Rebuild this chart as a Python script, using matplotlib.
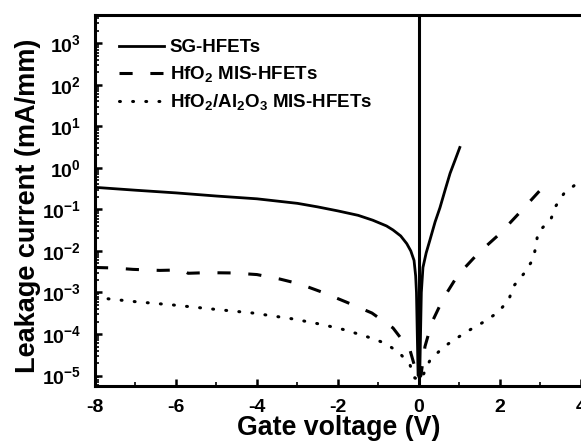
import math
import matplotlib
matplotlib.use("Agg")
import matplotlib.pyplot as plt
from matplotlib.ticker import FixedLocator, LogLocator, FuncFormatter, NullFormatter

plt.rcParams['font.family'] = ['Liberation Sans', 'DejaVu Sans']
plt.rcParams['font.weight'] = 'bold'
plt.rcParams['mathtext.fontset'] = 'custom'
plt.rcParams['mathtext.rm'] = 'Liberation Sans:bold'
plt.rcParams['mathtext.it'] = 'Liberation Sans:bold'
plt.rcParams['mathtext.bf'] = 'Liberation Sans:bold'
plt.rcParams['axes.unicode_minus'] = False

# SG-HFETs (solid)
sg_v = [-8, -7, -6, -5, -4, -3, -2.5, -2, -1.5, -1.14, -0.8, -0.64, -0.45, -0.3, -0.2,
        -0.12, -0.08, -0.06, -0.04, -0.02, 0.02, 0.04, 0.06, 0.1, 0.18, 0.27,
        0.4, 0.52, 0.65, 0.77, 0.9, 1.01]
sg_i = [0.34, 0.29, 0.25, 0.21, 0.18, 0.14, 0.115, 0.092, 0.072, 0.055, 0.04, 0.032,
        0.023, 0.015, 0.010, 5.9e-3, 2.5e-3, 1e-3, 1e-4, 1e-5, 1e-5, 1e-4,
        1e-3, 4e-3, 9e-3, 1.8e-2, 5e-2, 0.11, 0.3, 0.74, 1.6, 3.1]

# HfO2 MIS-HFETs (dashed)
hf_v = [-8, -7.56, -7.06, -6.4, -5.85, -5.7, -5.23, -4.59, -4.0, -3.43, -2.94,
        -2.37, -1.78, -1.16, -0.64, -0.22, -0.1, -0.03, 0.05, 0.15, 0.32, 0.6,
        0.96, 1.46, 2.0, 2.54, 3.06, 3.16]
hf_i = [4.0e-3, 3.9e-3, 3.6e-3, 3.4e-3, 3.5e-3, 2.9e-3, 3.0e-3, 2.95e-3, 2.7e-3,
        2.1e-3, 1.6e-3, 1.0e-3, 5.8e-4, 3.2e-4, 1.4e-4, 4.1e-5, 1.6e-5, 8e-6,
        1e-5, 5e-5, 1.9e-4, 7.1e-4, 2.6e-3, 8.7e-3, 2.6e-2, 9.5e-2, 0.34, 0.42]

# HfO2/Al2O3 MIS-HFETs (dotted)
ha_v = [-8, -7, -6.07, -5, -4.1, -3.1, -2.4, -1.83, -1.16, -0.84, -0.49, -0.22,
        -0.1, 0.05, 0.27, 0.6, 0.93, 1.26, 1.58, 1.93, 2.22, 2.32, 2.6, 2.82,
        2.89, 2.94, 3.26, 3.38, 3.58, 3.9, 4.2]
ha_i = [7.6e-4, 6.0e-4, 5.0e-4, 3.9e-4, 3.2e-4, 2.3e-4, 1.7e-4, 1.26e-4, 7.9e-5,
        6.0e-5, 3.6e-5, 1.8e-5, 8.7e-6, 7.9e-6, 2.3e-5, 4.8e-5, 7.9e-5, 1.26e-4,
        1.9e-4, 3.2e-4, 6.5e-4, 1.35e-3, 2.9e-3, 6.3e-3, 1.3e-2, 2.8e-2, 5.8e-2,
        0.12, 0.24, 0.42, 0.5]

labels = ['SG-HFETs', r'HfO$_2$ MIS-HFETs', r'HfO$_2$/Al$_2$O$_3$ MIS-HFETs']
x_major = [-8, -6, -4, -2, 0, 2, 4]
x_minor = [-7, -5, -3, -1, 1, 3]
y_decades = [-5, -4, -3, -2, -1, 0, 1, 2, 3]

fig = plt.figure(figsize=(5.81, 4.47), dpi=100)
ax = fig.add_axes([95/581, 61/447, 498/581, 371/447])

ax.plot(sg_v, sg_i, color='black', lw=2.0, ls='-', label=labels[0])
ax.plot(hf_v, hf_i, color='black', lw=2.2, ls=(0, (4.3, 5.8)), label=labels[1])
ax.plot(ha_v, ha_i, color='black', lw=2.2, ls=(0, (0.3, 4.0)),
        dash_capstyle='round', label=labels[2])
ax.axvline(0, color='black', lw=2.2)

ax.set_yscale('log')
ax.set_xlim(-8, 4.3)
ax.set_ylim(5.6e-6, 4.8e3)

ax.xaxis.set_major_locator(FixedLocator(x_major))
ax.xaxis.set_minor_locator(FixedLocator(x_minor))
ax.yaxis.set_major_locator(FixedLocator([10.0**d for d in y_decades]))
ax.yaxis.set_minor_locator(LogLocator(base=10, subs=range(2, 10), numticks=30))
ax.yaxis.set_minor_formatter(NullFormatter())
ax.yaxis.set_major_formatter(FuncFormatter(lambda v, p: r'$10^{%d}$' % round(math.log10(v))))

ax.tick_params(axis='both', which='major', direction='in', length=5, width=1.8,
               top=False, right=False)
ax.tick_params(axis='both', which='minor', direction='in', length=3, width=1.2,
               top=False, right=False)
ax.tick_params(axis='x', which='major', pad=9, labelsize=14)
ax.tick_params(axis='y', which='major', pad=10, labelsize=14)
for lab in ax.get_xticklabels() + ax.get_yticklabels():
    lab.set_fontweight('bold')

for s in ax.spines.values():
    s.set_linewidth(2.2)

ax.set_xlabel('Gate voltage (V)', fontsize=19.3, fontweight='bold')
ax.set_ylabel('Leakage current (mA/mm)', fontsize=19.5, fontweight='bold')
ax.xaxis.set_label_coords(0.489, -0.077)
ax.yaxis.set_label_coords(-0.108, 0.485)

leg = ax.legend(loc='upper left', bbox_to_anchor=(0.015, 0.98), frameon=False,
                handlelength=2.4, handletextpad=0.3, labelspacing=0.42,
                prop={'weight': 'bold', 'size': 13.5})

fig.savefig('out.png', dpi=100)
